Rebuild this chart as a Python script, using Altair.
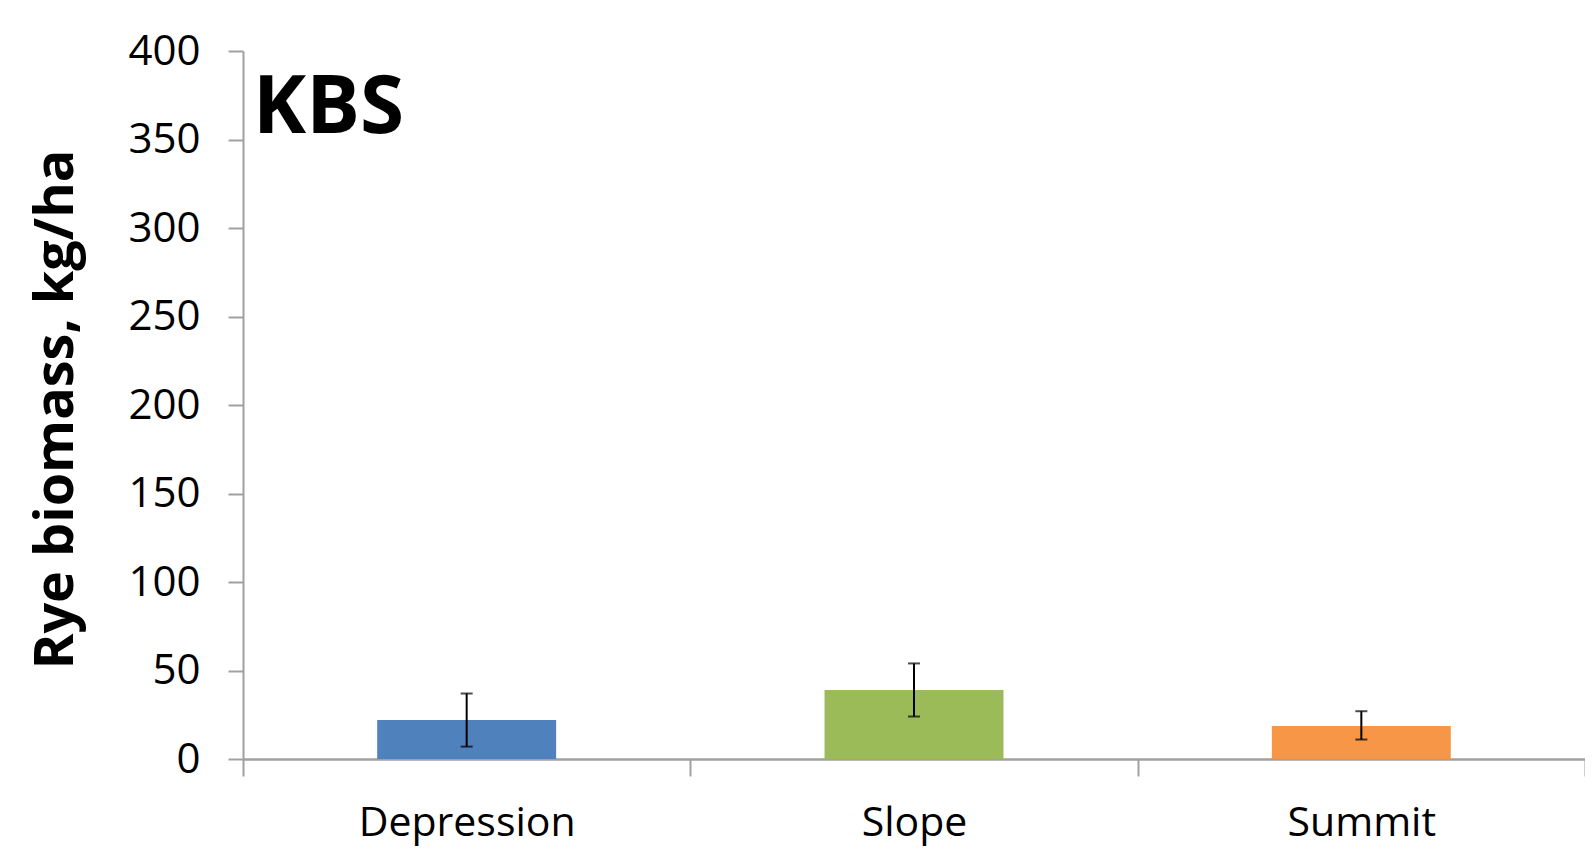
import altair as alt
import pandas as pd

sites = ["Depression", "Slope", "Summit"]
biomass = [22, 39, 18.7]
err_low = [7, 24, 11]
err_high = [37, 54, 27]
colors = ["#4F81BD", "#9BBB59", "#F79646"]
y_ticks = [0, 50, 100, 150, 200, 250, 300, 350, 400]

df = pd.DataFrame({"site": sites, "biomass": biomass, "lo": err_low, "hi": err_high})

FONT = "Open Sans"
xenc = alt.X("site:N", sort=sites, title=None,
             scale=alt.Scale(paddingInner=0, paddingOuter=0),
             axis=alt.Axis(labelFont=FONT, labelFontSize=41, labelColor="black",
                           labelAngle=0, labelLimit=0, tickBand="extent", tickSize=17,
                           tickColor="#a0a0a0", tickWidth=2, domainColor="#a0a0a0",
                           domainWidth=2.5, labelPadding=27, grid=False))
yscale = alt.Scale(domain=[0, 400], nice=False)

bars = alt.Chart(df).mark_bar(width=alt.RelativeBandSize(0.4)).encode(
    x=xenc,
    y=alt.Y("biomass:Q", scale=yscale, title="Rye biomass, kg/ha",
            axis=alt.Axis(values=y_ticks, labelFont=FONT, labelFontSize=42,
                          labelColor="black", tickSize=15, tickColor="#a0a0a0",
                          tickWidth=2, domainColor="#a0a0a0", domainWidth=2,
                          labelPadding=28, grid=False,
                          titleFont=FONT, titleFontSize=54, titleFontWeight="bold",
                          titleColor="black", titleX=-171, titleY=358,
                          titleBaseline="alphabetic", titleAlign="center")),
    color=alt.Color("site:N", scale=alt.Scale(domain=sites, range=colors), legend=None),
)

rules = alt.Chart(df).mark_rule(color="black", strokeWidth=2).encode(
    x=alt.X("site:N", sort=sites),
    y=alt.Y("lo:Q", scale=yscale),
    y2="hi:Q",
)
caps_lo = alt.Chart(df).mark_tick(color="black", size=12, thickness=2, orient="horizontal").encode(
    x=alt.X("site:N", sort=sites), y=alt.Y("lo:Q", scale=yscale))
caps_hi = alt.Chart(df).mark_tick(color="black", size=12, thickness=2, orient="horizontal").encode(
    x=alt.X("site:N", sort=sites), y=alt.Y("hi:Q", scale=yscale))

label = alt.Chart(pd.DataFrame({"t": ["KBS"]})).mark_text(
    font=FONT, fontSize=80, fontWeight="bold", color="black",
    align="left", baseline="alphabetic").encode(
    text="t:N", x=alt.value(10), y=alt.value(82))

chart = alt.layer(bars, rules, caps_lo, caps_hi, label).properties(
    width=1342, height=708,
    autosize=alt.AutoSizeParams(type="none"),
    padding={"left": 235, "top": 43, "right": 0, "bottom": 88},
    view=alt.ViewBackground(stroke="transparent", strokeWidth=0),
).configure_view(stroke="transparent", strokeWidth=0).configure_axis(grid=False).configure(background="white")

chart.save("out.html", embed_options={"renderer": "svg", "actions": False})
